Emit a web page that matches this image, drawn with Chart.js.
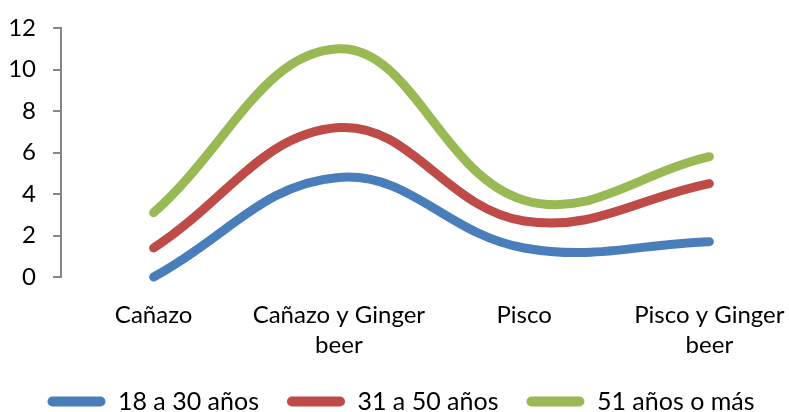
<!DOCTYPE html>
<html>
<head>
<meta charset="utf-8">
<script src="https://cdn.jsdelivr.net/npm/chart.js@4"></script>
<style>
  html, body { margin: 0; padding: 0; background: #fff; overflow: hidden; }
  #wrap { width: 789px; height: 412px; overflow: hidden; }
</style>
</head>
<body>
<div id="wrap"><canvas id="bebidasChart"></canvas></div>
<script>
const categories = ['Cañazo', ['Cañazo y Ginger', 'beer'], 'Pisco', ['Pisco y Ginger', 'beer']];
const seriesNames = ['18 a 30 años', '31 a 50 años', '51 años o más'];
const joven = [0, 4.8, 1.4, 1.7];
const adulto = [1.4, 7.2, 2.7, 4.5];
const mayor = [3.1, 11, 3.7, 5.8];
const yTicks = [0, 2, 4, 6, 8, 10, 12];

const colors = ['#4A7EBB', '#BE4B48', '#98B954'];
const FONT = 'Lato, "Liberation Sans", sans-serif';

const makeSet = (label, values, color) => ({
  label: label,
  data: values,
  borderColor: color,
  backgroundColor: color,
  borderWidth: 9,
  borderCapStyle: 'round',
  borderJoinStyle: 'round',
  tension: 0.4,
  pointRadius: 0,
  fill: false,
  clip: false,
});

const data = {
  labels: categories,
  datasets: [
    makeSet(seriesNames[0], joven, colors[0]),
    makeSet(seriesNames[1], adulto, colors[1]),
    makeSet(seriesNames[2], mayor, colors[2]),
  ],
};

const config = {
  type: 'line',
  data: data,
  options: {
    responsive: false,
    animation: false,
    maintainAspectRatio: false,
    layout: { padding: { top: 0, right: 18, left: 0, bottom: 0 } },
    plugins: {
      legend: {
        position: 'bottom',
        labels: {
          font: { family: FONT, size: 25, lineHeight: 1.2 },
          color: '#000',
          boxWidth: 58,
          boxHeight: 10,
          padding: 28,
          useBorderRadius: true,
          borderRadius: 5,
          generateLabels(chart) {
            // thick rounded bars, no stroke around them
            return Chart.defaults.plugins.legend.labels.generateLabels(chart).map(item => {
              item.lineWidth = 0;
              return item;
            });
          },
        },
      },
      tooltip: { enabled: false },
    },
    scales: {
      x: {
        offset: true,
        grid: { display: false },
        border: { display: false },
        afterFit(scale) {
          // trim the empty space under the labels
          scale.height -= 14;
        },
        ticks: {
          font: { family: FONT, size: 24, lineHeight: 1.25 },
          color: '#000',
          padding: 15,
          maxRotation: 0,
          autoSkip: false,
        },
      },
      y: {
        min: 0,
        max: 12,
        afterBuildTicks(scale) {
          scale.ticks = yTicks.map(v => ({ value: v }));
        },
        afterFit(scale) {
          scale.width = 61;
          scale.paddingTop = 28;
        },
        grid: {
          drawOnChartArea: false,
          drawTicks: true,
          tickLength: 8,
          color: '#868686',
          lineWidth: 2,
        },
        border: { display: true, color: '#868686', width: 2 },
        ticks: {
          font: { family: FONT, size: 24 },
          color: '#000',
          padding: 17,
        },
      },
    },
  },
};

const canvas = document.getElementById('bebidasChart');
canvas.width = 820;
canvas.height = 424;
new Chart(canvas, config);
</script>
</body>
</html>
